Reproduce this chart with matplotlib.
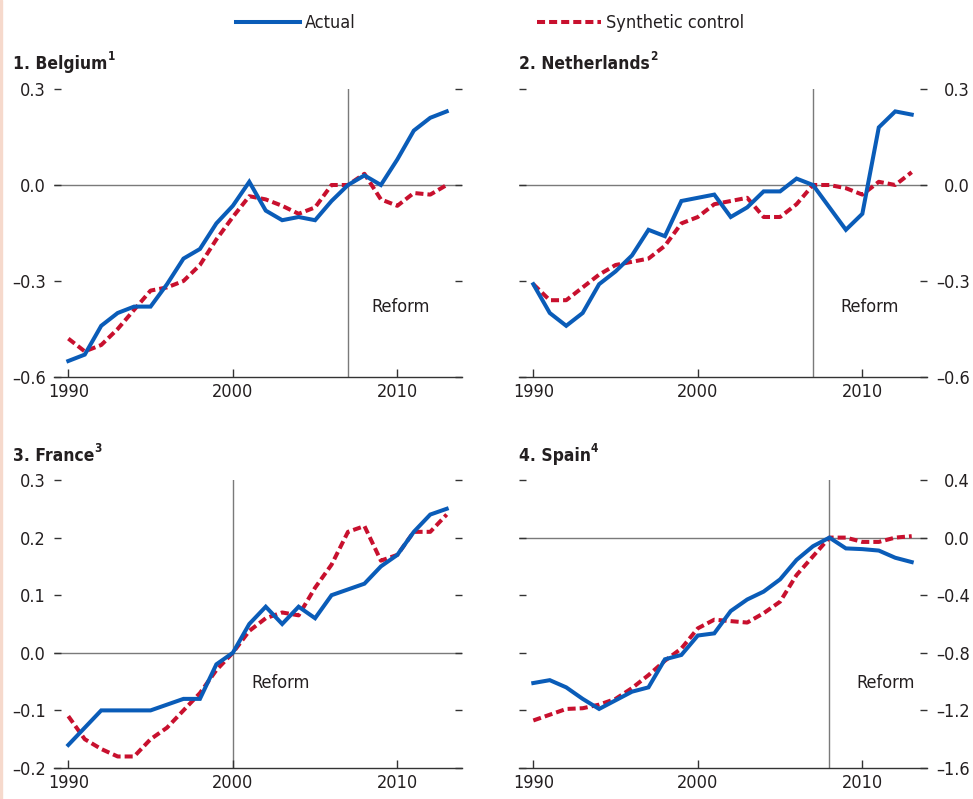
import matplotlib
matplotlib.use("Agg")
import matplotlib.pyplot as plt
from matplotlib import font_manager
from matplotlib.patches import Rectangle

# pick a narrow face if the box has one, the chart uses a condensed grotesk
names = {f.name for f in font_manager.fontManager.ttflist}
condensed = [f for f in font_manager.fontManager.ttflist
             if f.name == 'DejaVu Sans' and f.stretch == 'condensed']
if 'Liberation Sans Narrow' in names:
    plt.rcParams['font.family'] = ['Liberation Sans Narrow', 'DejaVu Sans']
    FS = 15
elif condensed:
    plt.rcParams['font.family'] = ['DejaVu Sans']
    plt.rcParams['font.stretch'] = 'condensed'
    FS = 13
else:
    plt.rcParams['font.family'] = ['Liberation Sans', 'DejaVu Sans']
    FS = 13.5

# ---- data ----
years = list(range(1990, 2014))

belgium_actual = [-0.55, -0.53, -0.44, -0.40, -0.38, -0.38, -0.31, -0.23, -0.20, -0.12,
                  -0.065, 0.01, -0.08, -0.11, -0.10, -0.11, -0.05, 0.0, 0.03, 0.0,
                  0.08, 0.17, 0.21, 0.23]
belgium_synth = [-0.48, -0.52, -0.50, -0.45, -0.39, -0.33, -0.32, -0.30, -0.25, -0.17,
                 -0.10, -0.035, -0.045, -0.065, -0.09, -0.07, 0.0, 0.0, 0.035, -0.045,
                 -0.065, -0.025, -0.03, 0.0]

nl_actual = [-0.31, -0.40, -0.44, -0.40, -0.31, -0.27, -0.22, -0.14, -0.16, -0.05,
             -0.04, -0.03, -0.10, -0.07, -0.02, -0.02, 0.02, 0.0, -0.07, -0.14,
             -0.09, 0.18, 0.23, 0.22]
nl_synth = [-0.31, -0.36, -0.36, -0.32, -0.28, -0.25, -0.24, -0.23, -0.19, -0.12,
            -0.10, -0.06, -0.05, -0.04, -0.10, -0.10, -0.06, 0.0, 0.0, -0.01,
            -0.03, 0.01, 0.0, 0.04]

france_actual = [-0.16, -0.13, -0.10, -0.10, -0.10, -0.10, -0.09, -0.08, -0.08, -0.02,
                 0.0, 0.05, 0.08, 0.05, 0.08, 0.06, 0.10, 0.11, 0.12, 0.15,
                 0.17, 0.21, 0.24, 0.25]
france_synth = [-0.11, -0.15, -0.167, -0.18, -0.18, -0.15, -0.13, -0.10, -0.07, -0.03,
                0.0, 0.038, 0.06, 0.07, 0.065, 0.113, 0.153, 0.21, 0.22, 0.16,
                0.17, 0.21, 0.21, 0.24]

spain_actual = [-1.01, -0.99, -1.04, -1.12, -1.19, -1.13, -1.07, -1.04, -0.845, -0.815,
                -0.68, -0.665, -0.51, -0.43, -0.375, -0.29, -0.155, -0.06, 0.0, -0.075,
                -0.08, -0.09, -0.14, -0.17]
spain_synth = [-1.27, -1.23, -1.19, -1.185, -1.16, -1.12, -1.045, -0.955, -0.855, -0.77,
               -0.63, -0.57, -0.58, -0.59, -0.525, -0.445, -0.26, -0.13, 0.0, 0.0,
               -0.03, -0.03, 0.0, 0.01]

titles = ['1. Belgium', '2. Netherlands', '3. France', '4. Spain']
notes = ['1', '2', '3', '4']
reform_years = [2007, 2007, 2000, 2008]
actual_series = [belgium_actual, nl_actual, france_actual, spain_actual]
synth_series = [belgium_synth, nl_synth, france_synth, spain_synth]

yticks_top = [-0.6, -0.3, 0.0, 0.3]
ylabels_top = ['\u20130.6', '\u20130.3', '0.0', '0.3']
yticks_france = [-0.2, -0.1, 0.0, 0.1, 0.2, 0.3]
ylabels_france = ['\u20130.2', '\u20130.1', '0.0', '0.1', '0.2', '0.3']
yticks_spain = [-1.6, -1.2, -0.8, -0.4, 0.0, 0.4]
ylabels_spain = ['\u20131.6', '\u20131.2', '\u20130.8', '\u20130.4', '0.0', '0.4']
yticks_all = [yticks_top, yticks_top, yticks_france, yticks_spain]
ylabels_all = [ylabels_top, ylabels_top, ylabels_france, ylabels_spain]
xticks = [1990, 2000, 2010]

# ---- layout / style ----
W, H = 973, 799
BLUE = '#0a5cb8'
RED = '#c8102e'
TXT = '#231f20'
GRID = '#7a7a7a'

ax_boxes = [(54, 89), (519, 89), (54, 480), (519, 480)]  # left px, top px
AX_W, AX_H = 408, 288
title_pos = [(13, 69), (519, 69), (13, 461), (519, 461)]
reform_pos = [(0.779, 0.243), (0.787, 0.243), (0.483, 0.295), (0.826, 0.295)]
right_side = [False, True, False, True]

fig = plt.figure(figsize=(W / 100, H / 100), dpi=100)
fig.patches.append(Rectangle((0, 0), 2 / W, 1, transform=fig.transFigure,
                             color='#f6d9cc', zorder=0))

handles = None
for i in range(4):
    lx, ty = ax_boxes[i]
    ax = fig.add_axes([lx / W, 1 - (ty + AX_H) / H, AX_W / W, AX_H / H])
    yt = yticks_all[i]
    ax.set_xlim(1989.13, 2013.93)
    ax.set_ylim(yt[0], yt[-1])

    ax.axhline(0, color=GRID, lw=1, zorder=1)
    ax.axvline(reform_years[i], color=GRID, lw=1, zorder=1)
    h2, = ax.plot(years, synth_series[i], color=RED, lw=2.9,
                  linestyle=(0, (2.0, 1.0)), zorder=2, label='Synthetic control')
    h1, = ax.plot(years, actual_series[i], color=BLUE, lw=2.9,
                  solid_joinstyle='miter', zorder=3, label='Actual')
    if handles is None:
        handles = [h1, h2]

    for s in ['top', 'left', 'right']:
        ax.spines[s].set_visible(False)
    ax.spines['bottom'].set_color('#333333')
    ax.spines['bottom'].set_linewidth(1)

    ax.set_xticks(xticks)
    ax.set_xticklabels([str(x) for x in xticks])
    ax.tick_params(axis='x', direction='in', length=6, width=1, color='#333333',
                   labelsize=FS, labelcolor=TXT, pad=4)

    ax.set_yticks(yt)
    ax.set_yticklabels(ylabels_all[i])
    if right_side[i]:
        ax.tick_params(axis='y', direction='in', length=5, width=1, color='#333333',
                       left=True, right=True, labelleft=False, labelright=True,
                       labelsize=FS, labelcolor=TXT, pad=31)
        for lab in ax.get_yticklabels():
            lab.set_horizontalalignment('right')
    else:
        ax.tick_params(axis='y', direction='in', length=5, width=1, color='#333333',
                       left=True, right=True, labelleft=True, labelright=False,
                       labelsize=FS, labelcolor=TXT, pad=6)

    rx, ry = reform_pos[i]
    ax.text(rx, ry, 'Reform', transform=ax.transAxes, fontsize=FS, color=TXT,
            ha='left', va='center')

    tx, tyy = title_pos[i]
    t = fig.text(tx / W, 1 - tyy / H, titles[i], fontsize=FS - 0.5, fontweight='bold',
                 color=TXT, ha='left', va='baseline')
    ax.annotate(notes[i], xy=(1, 0.55), xycoords=t, fontsize=FS - 4.5,
                fontweight='bold', color=TXT, ha='left', va='bottom')

fig.legend(handles=handles, loc='center', bbox_to_anchor=(490 / W, 1 - 23 / H),
           ncol=2, frameon=False, fontsize=FS, handlelength=3.55, handletextpad=0.3,
           columnspacing=10.0, labelcolor=TXT)

fig.savefig('out.png', dpi=100)
